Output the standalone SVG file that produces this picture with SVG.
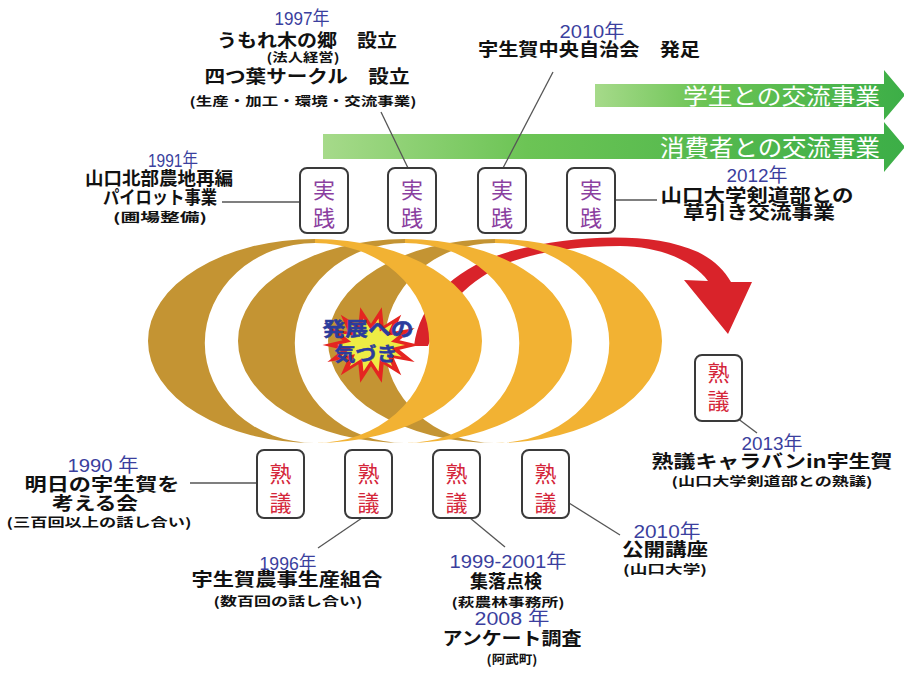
<svg xmlns="http://www.w3.org/2000/svg" width="904" height="673" viewBox="0 0 904 673">
<defs>
<linearGradient id="gArrow" x1="0" y1="0" x2="1" y2="0">
<stop offset="0" stop-color="#a6da8a"/>
<stop offset="0.35" stop-color="#6cc455"/>
<stop offset="1" stop-color="#3cae47"/>
</linearGradient>
<polygon id="star" points="50,0 29.3,4.9 45,17.4 23.5,13.7 31.2,31.3 13,19.8 11.1,39 0,22 -11.1,39 -13,19.8 -31.2,31.3 -23.5,13.7 -45,17.4 -29.3,4.9 -50,0 -29.3,-4.9 -45,-17.4 -23.5,-13.7 -31.2,-31.3 -13,-19.8 -11.1,-39 0,-22 11.1,-39 13,-19.8 31.2,-31.3 23.5,-13.7 45,-17.4 29.3,-4.9"/>
</defs>
<style>
.yr{font-family:"Liberation Sans","Noto Sans CJK JP",sans-serif;fill:#3b3f9e;font-size:19px;text-anchor:middle}
.lb{font-family:"Noto Sans CJK JP",sans-serif;font-weight:700;fill:#111;text-anchor:middle;font-size:18px}
.sm{font-family:"Noto Sans CJK JP",sans-serif;font-weight:700;fill:#111;text-anchor:middle;font-size:12.5px}
.box{fill:#fff;stroke:#3a3a3a;stroke-width:2}
.js{font-family:"Noto Sans CJK JP",sans-serif;font-size:22px;fill:#8b3fa0;text-anchor:middle}
.jk{font-family:"Noto Sans CJK JP",sans-serif;font-size:22px;fill:#d4263a;text-anchor:middle}
.conn{stroke:#555;stroke-width:1.3;fill:none}
.dark{fill:#C49433}
.bright{fill:#F2B233}
.gtxt{font-family:"Noto Sans CJK JP",sans-serif;fill:#fff}
.bt{font-family:"Noto Sans CJK JP",sans-serif;font-weight:700;fill:#2c3c9c;text-anchor:middle;stroke:#2c3c9c;stroke-width:0.5}
</style>

<!-- green arrows -->
<g id="arrow-students">
<polygon points="595,84 884,84 884,70 905,95 884,120 884,107 595,107" fill="url(#gArrow)"/>
<text class="gtxt" x="683" y="104" font-size="22" textLength="197" lengthAdjust="spacingAndGlyphs">学生との交流事業</text>
</g>
<g id="arrow-consumers">
<polygon points="323,134 884,134 884,122 905,147 884,172 884,159 323,159" fill="url(#gArrow)"/>
<text class="gtxt" x="660" y="156" font-size="23" textLength="220" lengthAdjust="spacingAndGlyphs">消費者との交流事業</text>
</g>

<!-- spiral -->
<g id="spiral">
<path class="dark" d="M315,239 A167,102 0 0,0 315,443 A108,98 0 0,1 315,243 Z"/>
<path class="dark" d="M405,239 A167,102 0 0,0 405,443 A108,98 0 0,1 405,243 Z"/>
<path class="dark" d="M495,239 A167,102 0 0,0 495,443 A108,98 0 0,1 495,243 Z"/>
<path id="red-arrow" fill="#d9232a" d="M414,346 C420,300 458,265 515,250 C570,236 650,230 698,252 C714,260 724,270 731,282 L752,282 L728,334 L684,280 L708,281 C695,262 660,246 620,246 C570,246 530,254 505,264 C460,285 440,315 428,346 Z"/>
<path class="bright" d="M315,239 A167,102 0 0,1 315,443 A112,98 0 0,0 315,243 Z"/>
<path class="bright" d="M405,239 A167,102 0 0,1 405,443 A112,98 0 0,0 405,243 Z"/>
<path class="bright" d="M495,239 A167,102 0 0,1 495,443 A112,98 0 0,0 495,243 Z"/>
</g>

<!-- starburst -->
<g id="burst">
<use href="#star" transform="translate(371,345) scale(0.97)" fill="#e52521"/>
<use href="#star" transform="translate(371,345) scale(0.68)" fill="#eeec45"/>
<text class="bt" x="368" y="336" font-size="19" textLength="91" lengthAdjust="spacingAndGlyphs">発展への</text>
<text class="bt" x="366" y="361" font-size="19" textLength="63" lengthAdjust="spacingAndGlyphs">気づき</text>
</g>

<!-- connectors -->
<g id="connectors">
<line class="conn" x1="222" y1="202" x2="300" y2="202"/>
<line class="conn" x1="615" y1="200" x2="657" y2="200"/>
<line class="conn" x1="190" y1="483" x2="257" y2="483"/>
<line class="conn" x1="381" y1="112" x2="408" y2="168"/>
<line class="conn" x1="553" y1="72" x2="503" y2="168"/>
<line class="conn" x1="318" y1="548" x2="362" y2="518"/>
<line class="conn" x1="505" y1="547" x2="470" y2="518"/>
<line class="conn" x1="569" y1="503" x2="620" y2="535"/>
<line class="conn" x1="737" y1="418" x2="757" y2="433"/>
</g>

<!-- 実践 boxes -->
<g id="jissen-1"><rect class="box" x="300" y="168" width="48" height="65" rx="7"/><text class="js" x="324" y="198">実</text><text class="js" x="324" y="226">践</text></g>
<g id="jissen-2"><rect class="box" x="388" y="168" width="48" height="65" rx="7"/><text class="js" x="412" y="198">実</text><text class="js" x="412" y="226">践</text></g>
<g id="jissen-3"><rect class="box" x="478" y="168" width="48" height="65" rx="7"/><text class="js" x="502" y="198">実</text><text class="js" x="502" y="226">践</text></g>
<g id="jissen-4"><rect class="box" x="567" y="168" width="48" height="65" rx="7"/><text class="js" x="591" y="198">実</text><text class="js" x="591" y="226">践</text></g>

<!-- 熟議 boxes -->
<g id="jukugi-1"><rect class="box" x="257" y="450" width="47" height="68" rx="7"/><text class="jk" x="280.5" y="482">熟</text><text class="jk" x="280.5" y="511">議</text></g>
<g id="jukugi-2"><rect class="box" x="345" y="450" width="47" height="68" rx="7"/><text class="jk" x="368.5" y="482">熟</text><text class="jk" x="368.5" y="511">議</text></g>
<g id="jukugi-3"><rect class="box" x="433" y="450" width="47" height="68" rx="7"/><text class="jk" x="456.5" y="482">熟</text><text class="jk" x="456.5" y="511">議</text></g>
<g id="jukugi-4"><rect class="box" x="522" y="450" width="47" height="68" rx="7"/><text class="jk" x="545.5" y="482">熟</text><text class="jk" x="545.5" y="511">議</text></g>
<g id="jukugi-5"><rect class="box" x="695" y="355" width="47" height="66" rx="7"/><text class="jk" x="718.5" y="381">熟</text><text class="jk" x="718.5" y="409">議</text></g>

<!-- labels -->
<g id="label-1997">
<text class="yr" x="302" y="25" font-size="20" textLength="55" lengthAdjust="spacingAndGlyphs">1997年</text>
<text class="lb" x="307" y="46.5" font-size="17.5" textLength="180" lengthAdjust="spacingAndGlyphs">うもれ木の郷　設立</text>
<text class="sm" x="303" y="62" font-size="11.5" textLength="73" lengthAdjust="spacingAndGlyphs">(法人経営)</text>
<text class="lb" x="307" y="83" font-size="18.5" textLength="205" lengthAdjust="spacingAndGlyphs">四つ葉サークル　設立</text>
<text class="sm" x="303" y="106" font-size="13" textLength="227" lengthAdjust="spacingAndGlyphs">(生産・加工・環境・交流事業)</text>
</g>
<g id="label-2010-top">
<text class="yr" x="592" y="38" font-size="18" textLength="65" lengthAdjust="spacingAndGlyphs">2010年</text>
<text class="lb" x="589" y="56" font-size="17.5" textLength="222" lengthAdjust="spacingAndGlyphs">宇生賀中央自治会　発足</text>
</g>
<g id="label-1991">
<text class="yr" x="173" y="167" textLength="50" lengthAdjust="spacingAndGlyphs">1991年</text>
<text class="lb" x="159" y="185" font-size="18.5" textLength="148" lengthAdjust="spacingAndGlyphs">山口北部農地再編</text>
<text class="lb" x="160" y="204" textLength="114" lengthAdjust="spacingAndGlyphs">パイロット事業</text>
<text class="sm" x="160" y="222" textLength="94" lengthAdjust="spacingAndGlyphs">(圃場整備)</text>
</g>
<g id="label-2012">
<text class="yr" x="757" y="182" textLength="61" lengthAdjust="spacingAndGlyphs">2012年</text>
<text class="lb" x="757" y="201.5" font-size="17.5" textLength="193" lengthAdjust="spacingAndGlyphs">山口大学剣道部との</text>
<text class="lb" x="759" y="218.5" font-size="17" textLength="152" lengthAdjust="spacingAndGlyphs">草引き交流事業</text>
</g>
<g id="label-1990">
<text class="yr" x="103" y="472" font-size="20" textLength="71" lengthAdjust="spacingAndGlyphs">1990 年</text>
<text class="lb" x="102" y="491" font-size="19.5" textLength="155" lengthAdjust="spacingAndGlyphs">明日の宇生賀を</text>
<text class="lb" x="95" y="510" font-size="18.5" textLength="86" lengthAdjust="spacingAndGlyphs">考える会</text>
<text class="sm" x="99" y="527" textLength="185" lengthAdjust="spacingAndGlyphs">(三百回以上の話し合い)</text>
</g>
<g id="label-1996">
<text class="yr" x="288" y="570" font-size="18.5" textLength="57" lengthAdjust="spacingAndGlyphs">1996年</text>
<text class="lb" x="287" y="586" font-size="17.5" textLength="191" lengthAdjust="spacingAndGlyphs">宇生賀農事生産組合</text>
<text class="sm" x="288" y="606" font-size="13" textLength="149" lengthAdjust="spacingAndGlyphs">(数百回の話し合い)</text>
</g>
<g id="label-1999">
<text class="yr" x="508" y="568" font-size="20" textLength="117" lengthAdjust="spacingAndGlyphs">1999-2001年</text>
<text class="lb" x="506" y="588" font-size="18.5" textLength="72" lengthAdjust="spacingAndGlyphs">集落点検</text>
<text class="sm" x="508" y="607" font-size="11.5" textLength="113" lengthAdjust="spacingAndGlyphs">(萩農林事務所)</text>
<text class="yr" x="512" y="625" font-size="18.5" textLength="75" lengthAdjust="spacingAndGlyphs">2008 年</text>
<text class="lb" x="512" y="645" font-size="18.5" textLength="139" lengthAdjust="spacingAndGlyphs">アンケート調査</text>
<text class="sm" x="512" y="664" font-size="13" textLength="51" lengthAdjust="spacingAndGlyphs">(阿武町)</text>
</g>
<g id="label-2010-bottom">
<text class="yr" x="667" y="538" font-size="18.5" textLength="67" lengthAdjust="spacingAndGlyphs">2010年</text>
<text class="lb" x="665" y="556" font-size="17.5" textLength="86" lengthAdjust="spacingAndGlyphs">公開講座</text>
<text class="sm" x="665" y="574" font-size="13" textLength="84" lengthAdjust="spacingAndGlyphs">(山口大学)</text>
</g>
<g id="label-2013">
<text class="yr" x="772" y="450" font-size="20" textLength="61" lengthAdjust="spacingAndGlyphs">2013年</text>
<text class="lb" x="772" y="468" font-size="19.5" textLength="241" lengthAdjust="spacingAndGlyphs">熟議キャラバンin宇生賀</text>
<text class="sm" x="772" y="486" font-size="13" textLength="201" lengthAdjust="spacingAndGlyphs">(山口大学剣道部との熟議)</text>
</g>
</svg>
